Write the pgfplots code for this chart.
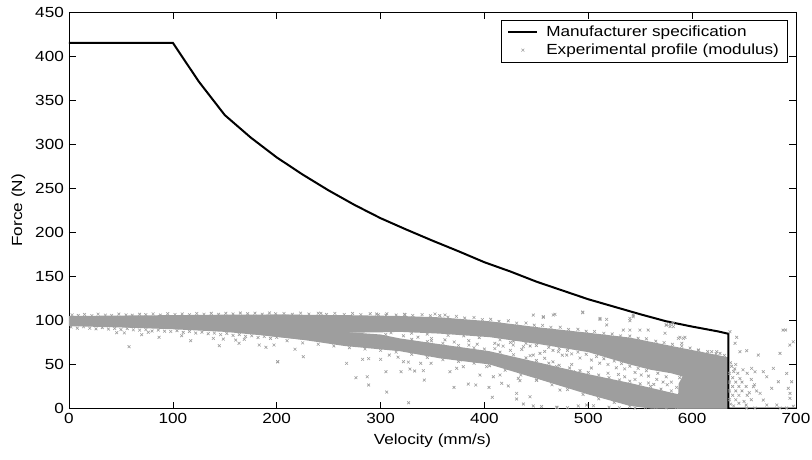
\documentclass[border=0pt]{standalone}
\usepackage{fontspec}
\setmainfont{Liberation Sans}[FakeStretch=1.17]
\usepackage{pgfplots}
\pgfplotsset{compat=1.18}
\definecolor{sgray}{rgb}{0.62,0.62,0.62}
\pgfplotsset{longlegend/.style={legend image code/.code={\draw[mark repeat=2,mark phase=2,##1] plot coordinates {(0cm,0cm) (0.38cm,0cm) (0.76cm,0cm)};}}}
\begin{document}
\fontsize{11}{13}\selectfont
\begin{tikzpicture}
\begin{axis}[
  scale only axis, width=545.25pt, height=297.4pt,
  xmin=0, xmax=700, ymin=0, ymax=450,
  xtick={0,100,...,700}, ytick={0,50,...,450},
  tick align=inside, major tick length=5pt,
  tick style={black, line width=0.5pt},
  axis line style={line width=0.6pt},
  /pgf/number format/assume math mode=true,
  xlabel={Velocity (mm/s)}, ylabel={Force (N)},
  legend style={at={(0.989,0.98)}, anchor=north east, draw=black, line width=0.5pt,
    inner xsep=4.5pt, inner ysep=2pt, /tikz/column sep=4pt},
  legend cell align=left,
  longlegend,
]
% dense cores of the experimental cloud
\addplot[forget plot, fill=sgray, draw=none] coordinates {
(0,105)(50,105.5)(100,106)(150,106.5)(200,106.6)(225,106.4)(225,78)(200,81.5)(150,87)(100,90)(50,92)(0,93.5)} -- cycle;
\addplot[forget plot, fill=sgray, draw=none] coordinates {
(190,106.6)(265,106)(319,105)(357,103.5)(405,99)(453,92)(500,86)(540,80.5)(580,71)(610,64)(635,58)
(635,20)(610,30)(580,40)(560,44)(540,50)(500,64)(453,73)(405,81)(357,85)(319,87)(300,86.5)(265,86)(190,88)} -- cycle;
\addplot[forget plot, fill=sgray, draw=none] coordinates {
(190,90)(265,87)(300,84)(319,79.5)(357,73)(405,65)(453,52)(500,39)(540,29)(580,18)(610,10)(635,8)
(635,0)(560,0)(540,3)(500,16)(453,33)(405,50)(357,57)(319,65)(265,71)(225,78)(190,82.5)} -- cycle;
\addplot[forget plot, fill=sgray, draw=none] coordinates {
(586,0)(635,0)(635,58)(603,65)(594,44)(587,28)} -- cycle;
% manufacturer specification
\addplot[black, line width=1.5pt] coordinates {
(0,415)(100,415)(125,371)(150,333)(175,307.5)(200,285)(225,265.5)(250,247.5)(275,231)
(300,216)(325,203)(350,190.5)(375,178.5)(400,166)(425,155.5)(450,144)(475,134)
(500,124)(525,115.5)(550,107)(575,99)(600,93)(625,87.5)(635,84.8)(635,0)(700,0)};
\addlegendentry{Manufacturer specification}
% individual samples
\addplot[only marks, mark=x, mark size=1.5pt, color=sgray, mark options={line width=0.45pt}, longlegend] coordinates {
(3,106.3)(9,105.6)(15,106.8)(22,105.4)(28,107.1)(35,106.0)(41,105.7)(48,107.2)(55,106.2)(61,105.9)
(68,107.0)(74,106.5)(81,107.4)(88,106.1)(95,107.6)(102,106.7)(109,107.4)(116,106.4)(123,107.9)(130,107.0)
(137,108.0)(144,106.9)(151,108.1)(158,107.3)(165,108.4)(172,107.6)(179,108.2)(186,107.1)(193,108.5)(199,107.5)
(2,92.5)(8,91.2)(14,92.8)(20,91.1)(26,90.4)(32,91.8)(38,90.2)(44,90.9)(50,89.6)(56,90.8)
(62,89.3)(68,88.9)(74,89.6)(80,87.9)(86,89.1)(92,87.8)(98,87.4)(104,88.4)(110,86.4)(116,87.5)
(122,85.6)(128,86.6)(134,84.9)(140,85.6)(146,83.8)(152,85.2)(158,82.9)(164,83.9)(170,81.8)(176,82.6)
(182,80.5)(188,81.7)(194,79.6)(200,80.8)
(207,107.8)(215,106.9)(223,108.3)(231,107.2)(240,108.1)(248,106.8)(256,107.9)(265,106.7)(273,107.9)(281,106.6)
(290,107.6)(298,106.4)(306,107.5)(315,106.1)(323,106.9)(331,105.6)(340,106.6)(348,105.2)(357,105.4)(365,103.7)
(373,104.6)(381,102.6)(390,103.3)(398,100.9)(406,101.3)(414,98.9)(423,99.5)(431,96.9)(440,97.1)(448,94.6)
(456,94.4)(464,92.1)(473,92.3)(481,89.8)(490,89.9)(498,87.6)(506,87.4)(515,85.3)(523,84.6)(531,82.4)
(540,82.3)(548,79.7)(556,79.1)(565,76.4)(573,74.8)(581,72.9)(590,70.7)(598,68.6)(606,66.4)(615,64.6)
(623,62.1)(631,60.3)
(310,86)(330,85.5)(345,84.5)(365,83)(380,82.5)(395,80.5)(415,78)(428,76.5)(440,74)(450,71.5)
(462,69.5)(472,68)(480,66)(490,64)(498,61.5)(508,59)(515,56.5)(525,54)(532,51)(540,48)(548,45.5)(556,43)
(330,78.5)(345,76)(360,74)(375,71.5)(390,69)(400,67.5)(415,64)(428,61)(440,57.5)(450,54.5)
(462,51.5)(472,49)(482,46)(492,43)(500,41)(510,38)(520,35)(530,32.5)(540,31)(550,28)(560,25)(570,22)(580,20)
(305,84)(322,82.5)(336,81)(349,79.5)(349,76.8)(362,78)(371,75.5)(385,77)(385,72)(393,73)
(410,74)(410,68)(418,70.8)(425,75)(425,66)(436,67)(444,71)(444,60)(458,64.8)(458,57)
(466,66)(466,53)(475,60.5)(484,62)(484,50)(492,57.3)(503,55)(503,46)(511,51.5)(519,50)
(519,40)(527,46.2)(535,45)(535,36)(545,41)(545,33)(551,38)(558,36.8)(558,29)(566,33)
(572,30)(529,38.7)(563,27.4)(567,40)(575,36)(580,30)(585,24)(588,35)(583,42)(576,27)(590,18)(586,12)
(592,40)(596,50)(590,28)(598,56)
(210,77)(225,74.5)(240,73)(255,71)(270,69)(285,67.5)(300,66)(315,64)(330,61.5)(345,58)
(360,55.5)(375,53.5)(390,51.5)(405,48.5)(420,43.5)(435,38)(450,32)(465,27)(480,21.5)(495,16)
(510,11)(525,7)(540,2.5)(555,1)(565,1.5)(575,0.8)(585,1.2)(562,5)(572,4)
(45.9,86.1)(53.3,85.8)(57.8,70.2)(70,83.8)(76.4,86.5)(86.7,80.8)(108.5,82.7)(117.2,77)(139,79.6)(144.7,71.3)
(148.6,78.8)(160.5,77.7)(163.7,74)(168.8,78.5)(201,53.1)
(183.2,72.1)(189.6,69.5)(197.4,72.1)(217.6,67.2)(200.9,53.1)(225.6,58.8)(267.3,51.3)(276.3,35)(287.2,36.1)(288.5,26.7)
(282.7,55.8)(288.5,56.6)(300.1,55.8)(305.2,41.8)(305.9,18.7)(319.7,41.8)(328.3,44.8)(332.8,42.6)(341.2,43)(342.1,32.3)
(327,6.6)(308.4,60.7)(316.8,58.3)(322,53.1)(326.8,52.7)(338.6,51.3)(348.6,51.3)
(242.6,108)(296.2,107.3)(305.2,105.8)(323.5,106.5)(352.4,107.3)
(362,106.1)(370.7,24)(384.5,27.8)(391.6,26.7)(404.4,24)(407.6,12.7)(416.6,28.6)(423,25.6)(431,17.2)(431,10.8)
(437.5,5.1)(443.9,13.4)(447.1,2.9)(469.5,1.4)(490.4,2.9)(498.4,4)(447.1,106.1)(456.7,103.5)(467.9,106.9)(494.6,109.5)
(511.3,102.3)(517.7,94.8)(432.6,34.3)(434.2,31.6)(413.4,72.1)(427.8,72.1)(437.5,70.2)(447.1,60.7)(453.5,62.6)(471.2,64.5)
(479.2,60.7)(459.9,47.5)(469.5,47.5)(485.5,41.8)(482.3,28.6)(472.7,21)(463.1,36.1)(450.3,32.3)(395.7,38)(366.8,41.8)
(373.3,45.6)(379.7,47.5)(376.5,55)(402.1,47.5)(408.6,36.1)(415,38)
(456.7,104.2)(466.3,106.1)(494.6,108.8)(511.3,101.2)(517.7,101.2)(540.1,99.7)(543.3,104.2)(574.8,94.8)(581.9,96.7)
(540,102.3)(543.3,106)(575.4,94.8)(578.7,93)(586.7,79.6)(591.5,79.6)(590,74)(533.7,89)(540,89)(549.7,89)(557.7,89)
(573.9,85.4)(578.7,95.9)(581.9,92.9)(588.3,80.8)(593.1,80.8)(606,66)(609.2,62.6)(618.8,64.5)(623.6,64.5)(626.8,62.6)
(520,1.5)(530,0.8)(545,0.5)(470,1.4)(480,0.9)(505,3.1)(455,2.2)
(636,10)(636,20)(636,30)(636,40)(639,15)(639,25)(639,35)(642,10)(642,20)(642,30)(645,15)(645,25)(648,20)
(646,34)(641,45)(637,5)(650,8)(653,15)(638,48)(644,40)(637,52)(640,42)(648,30)(652,25)(655,18)(645,6)(640,3)
(642,50)(649,44)(653,40)(657,33)(660,27)(662,20)(657,10)(652,4)
(636.4,87.2)(641.3,74)(642.9,80.8)(646,64.5)(652.5,65.6)(663.7,60.7)(684.6,62.6)(690,89.1)(697.4,75.8)(657.3,45.6)
(660.5,41.8)(668.5,41.8)(678.2,45.6)(683,30.4)(671.8,36.1)(676.6,22.9)(691,39.8)(695.8,30.4)(692.6,22.9)(694.2,17.2)
(694.2,11.6)(659,24.8)(665.4,17.2)(668.5,9.6)(671.8,4)(681.4,4)(652.5,0.6)(660.5,0.6)(684.6,0.6)(691,0.6)
(697.4,2.5)(687.5,89)(694,72)
};
\addlegendentry{Experimental profile (modulus)}
\end{axis}
\pgfresetboundingbox
\path[use as bounding box] ([xshift=-51.75pt,yshift=-37.9pt]current axis.south west) rectangle ([xshift=12pt,yshift=9pt]current axis.north east);
\end{tikzpicture}
\end{document}
